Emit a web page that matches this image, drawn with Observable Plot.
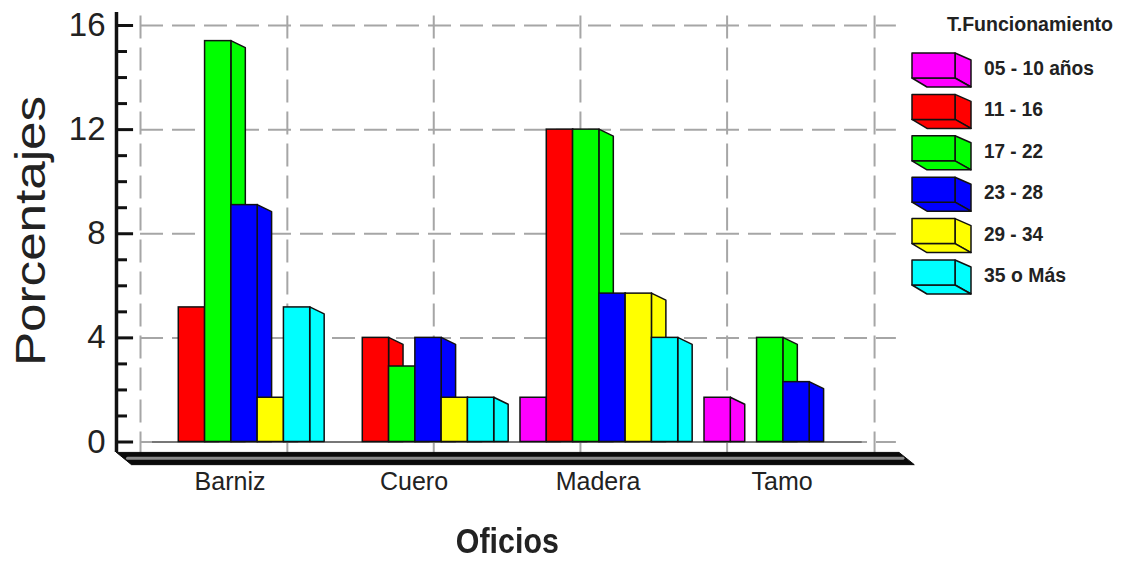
<!DOCTYPE html>
<html><head><meta charset="utf-8">
<script src="https://cdn.jsdelivr.net/npm/d3@7"></script>
<script src="https://cdn.jsdelivr.net/npm/@observablehq/plot@0.6"></script>
<style>html,body{margin:0;background:#fff}svg{display:block;filter:blur(0.6px)}</style>
</head><body><div id="chart"></div>
<script>
const oficios = ["Barniz","Cuero","Madera","Tamo"];
const series = ["05 - 10 años","11 - 16","17 - 22","23 - 28","29 - 34","35 o Más"];
const colors = ["#ff00ff","#ff0000","#00ff00","#0000ff","#ffff00","#00ffff"];
const v0510 = [0,0,1.7,1.7];
const v1116 = [5.17,4,12,0];
const v1722 = [15.4,2.9,12,4];
const v2328 = [9.1,4,5.7,2.3];
const v2934 = [1.7,1.7,5.7,0];
const v35 = [5.17,1.7,4,0];
const valores = [v0510,v1116,v1722,v2328,v2934,v35];
const yTicks = [0,4,8,12,16];
const minorTicks = [1,2,3,5,6,7,9,10,11,13,14,15];
const gridX = [-0.456,5.13,10.7,16.28,21.86,27.47];

const rows = [];
oficios.forEach((o,g)=>series.forEach((s,i)=>{
  const v = valores[i][g];
  if (v>0) rows.push({oficio:o,serie:s,color:colors[i],v,x1:g*7+i,x2:g*7+i+1});
}));
const depthX = 0.55, depthY = 0.27;
const sides = rows.flatMap((r,id)=>[
  {id,color:r.color,x:r.x2,y:r.v,y0:0},
  {id,color:r.color,x:r.x2+depthX,y:r.v-depthY,y0:0}
]);
const axisXpos = -1.37;
const floor = [
  {x:-1.37,y:-0.4},{x:28.4,y:-0.4},{x:28.98,y:-0.87},{x:-0.8,y:-0.87},{x:-1.37,y:-0.4}
];
const floorLight = [{x:-0.95,y:-0.62},{x:28.55,y:-0.62}];

function legend(){
  const g = d3.create("svg:g").attr("font-family","'Liberation Sans',Arial,sans-serif").attr("font-weight","bold");
  g.append("text").attr("x",947).attr("y",31).attr("text-anchor","start").attr("font-size",20)
    .attr("textLength",166).attr("lengthAdjust","spacingAndGlyphs").attr("fill","#222").text("T.Funcionamiento");
  series.forEach((s,i)=>{
    const y0 = 53 + i*41.4;
    const b = g.append("g").attr("transform",`translate(912,${y0})`).attr("stroke","#111").attr("stroke-width",1.5).attr("stroke-linejoin","round").attr("fill",colors[i]);
    b.append("path").attr("d","M43,0L59,7V34L43,25Z");
    b.append("path").attr("d","M0,25H43L59,34H15Z");
    b.append("path").attr("d","M0,0H43V25H0Z");
    const widths=[110,59,59,59,59,82];
    g.append("text").attr("x",984).attr("y",y0+22).attr("text-anchor","start").attr("font-size",20).attr("fill","#222")
      .attr("textLength",widths[i]).attr("lengthAdjust","spacingAndGlyphs").text(s);
  });
  return g.node();
}

const chart = Plot.plot({
  width:1124, height:561,
  marginLeft:116, marginTop:0, marginRight:0, marginBottom:0,
  x:{type:"linear",domain:[0,28],range:[152,888],axis:null},
  y:{type:"linear",domain:[0,16],range:[441.5,25],axis:null},
  style:{background:"#fff",fontFamily:"'Liberation Sans',Arial,sans-serif",overflow:"visible"},
  marks:[
    Plot.ruleX(gridX,{y1:-0.5,y2:16.5,stroke:"#a6a6a6",strokeWidth:2,strokeDasharray:"23 9"}),
    Plot.ruleY(yTicks,{x1:-0.456,x2:28.3,stroke:"#a6a6a6",strokeWidth:2,strokeDasharray:"23 9"}),
    Plot.ruleY([0],{x1:0,x2:27,stroke:"#777",strokeWidth:2}),
    Plot.areaY(sides,{x:"x",y1:"y0",y2:"y",z:"id",fill:"color",stroke:"#111",strokeWidth:1.5}),
    Plot.rectY(rows,{x1:"x1",x2:"x2",y1:0,y2:"v",fill:"color",stroke:"#111",strokeWidth:1.5}),
    Plot.line(floor,{x:"x",y:"y",fill:"#0a0a0a",stroke:"#0a0a0a",strokeWidth:1}),
    Plot.line(floorLight,{x:"x",y:"y",stroke:"#8a8a8a",strokeWidth:3}),
    Plot.ruleX([axisXpos],{y1:-0.4,y2:16.5,stroke:"#111",strokeWidth:3.5}),
    Plot.ruleY(yTicks,{x1:axisXpos,x2:-0.72,stroke:"#111",strokeWidth:3}),
    Plot.ruleY(minorTicks,{x1:axisXpos,x2:-0.95,stroke:"#111",strokeWidth:3}),
    Plot.axisY({anchor:"left",ticks:yTicks,tickSize:0,tickPadding:11,fontSize:33,label:null,fill:"#222"}),
    Plot.text(oficios,{x:(d,i)=>i*7+3-0.05,y:-1.55,text:d=>d,fontSize:25,fill:"#222"}),
    Plot.text(["Porcentajes"],{frameAnchor:"left",dx:-85,dy:-50,rotate:-90,fontSize:43,fill:"#222",textAnchor:"middle"}),
    Plot.text(["Oficios"],{x:13.5,y:-3.85,fontSize:35,fontWeight:"bold",fill:"#222",text:d=>d}),
    legend
  ]
});
d3.select(chart).selectAll("text").each(function(){
  const t = this.textContent;
  if (t==="Porcentajes") d3.select(this).attr("textLength",270).attr("lengthAdjust","spacingAndGlyphs");
  if (t==="Oficios") d3.select(this).attr("textLength",103).attr("lengthAdjust","spacingAndGlyphs");
});
document.getElementById("chart").append(chart);
</script></body></html>
